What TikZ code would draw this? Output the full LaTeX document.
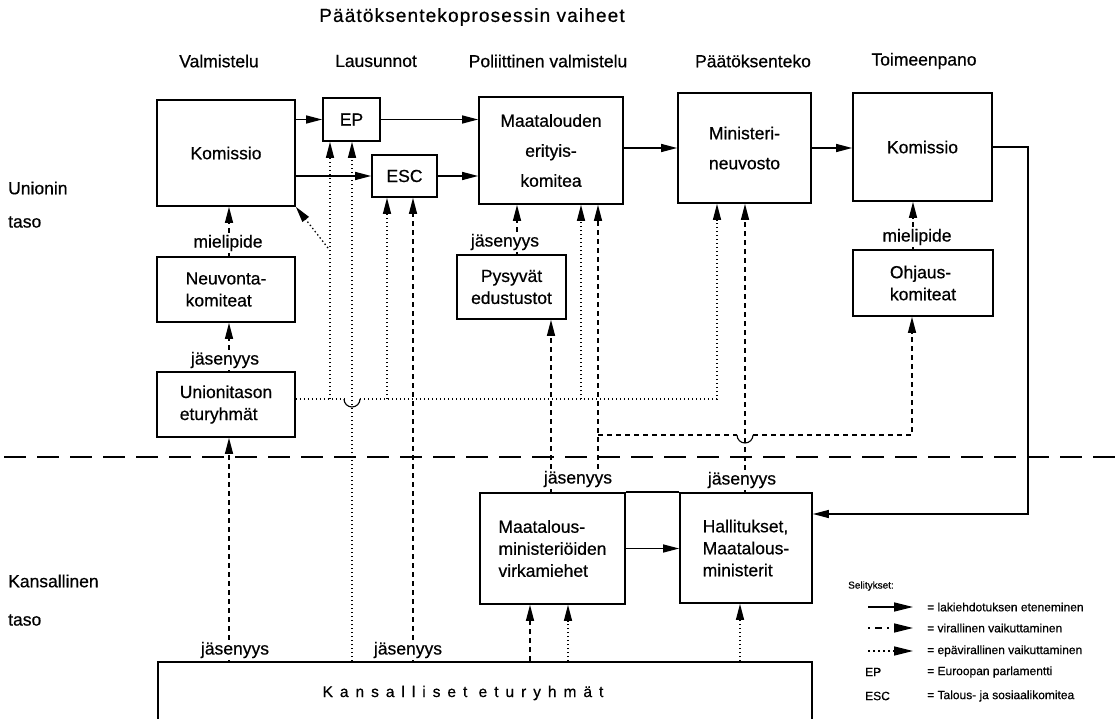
\documentclass[tikz,border=0pt]{standalone}
\usepackage{fontspec}
\setmainfont{Liberation Sans}[RawFeature={embolden=0.6}]
\newfontfamily\spacedfont[LetterSpace=45,RawFeature={embolden=0.6}]{Liberation Sans}
\newfontfamily\titlefont[LetterSpace=6,RawFeature={embolden=0.6}]{Liberation Sans}
\usetikzlibrary{arrows.meta,calc}
\begin{document}
\begin{tikzpicture}[x=1pt,y=-1pt,
  every node/.style={font=\fontsize{17.5}{22}\selectfont, inner sep=0pt},
  box/.style={draw, line width=1.7pt},
  lbl/.style={inner sep=2pt},
  solidarr/.style={line width=1.3pt, -{Triangle[length=16pt,width=8pt]}},
  dasharr/.style={solidarr, dash pattern=on 5pt off 4pt},
  dotarr/.style={solidarr, dash pattern=on 1.4pt off 2.6pt},
  dotln/.style={line width=1.3pt, dash pattern=on 1.4pt off 2.6pt},
  dashln/.style={line width=1.3pt, dash pattern=on 5pt off 4pt},
  hop/.style={line width=1.1pt},
  legtxt/.style={anchor=west, font=\fontsize{12}{14}\selectfont},
  legarr/.style={line width=1.5pt, -{Triangle[length=19pt,width=9pt]}}
]
\useasboundingbox (0,0) rectangle (1115,719);

% headers
\node[font={\titlefont\fontsize{19}{22}\selectfont}] (h0) at (472,17) {Päätöksentekoprosessin vaiheet};
\node (h1) at (219,61) {Valmistelu};
\node (h2) at (376,61) {Lausunnot};
\node (h3) at (548,61) {Poliittinen valmistelu};
\node (h4) at (753,61) {Päätöksenteko};
\node (h5) at (924,61) {Toimeenpano};

\node[anchor=west] (l1) at (8,188) {Unionin};
\node[anchor=west] (l2) at (8,222) {taso};
\node[anchor=west] (l3) at (8,581) {Kansallinen};
\node[anchor=west] (l4) at (8,620) {taso};

% boxes
\node[box, minimum width=138pt, minimum height=106pt] (kom1) at (226,153) {Komissio};
\node[box, minimum width=57pt, minimum height=43pt] (ep) at (351.5,119.5) {EP};
\node[box, minimum width=65pt, minimum height=42pt] (esc) at (404.5,176) {ESC};
\node[box, minimum width=144pt, minimum height=107pt, align=center] (mek) at (551,150.5) {Maatalouden\\[8pt]erityis-\\[8pt]komitea};
\node[box, minimum width=133pt, minimum height=110pt, align=center] (mn) at (744.5,148) {Ministeri-\\[8pt]neuvosto};
\node[box, minimum width=139pt, minimum height=108pt] (kom2) at (922.5,147) {Komissio};
\node[box, minimum width=138pt, minimum height=65pt, align=left] (neu) at (226,289.5) {Neuvonta-\\komiteat};
\node[box, minimum width=138pt, minimum height=65pt, align=left] (une) at (226,404.5) {Unionitason\\eturyhmät};
\node[box, minimum width=109pt, minimum height=64pt, align=center] (pys) at (511.5,287) {Pysyvät\\edustustot};
\node[box, minimum width=140pt, minimum height=66pt, align=left] (ohj) at (923,283) {Ohjaus-\\komiteat};
\node[box, minimum width=145pt, minimum height=111pt, align=left] (mmv) at (552.5,548.5) {Maatalous-\\ministeriöiden\\virkamiehet};
\node[box, minimum width=132pt, minimum height=110pt, align=left] (hal) at (746,548) {Hallitukset,\\Maatalous-\\ministerit};
\node[box, minimum width=654pt, minimum height=80pt] (kans) at (485,702) {};
\node[font={\spacedfont\fontsize{15.5}{18}\selectfont}] (kanstxt) at (463,693) {Kansalliset eturyhmät};

% labels
\node[lbl] (mp1) at (228,243) {mielipide};
\node[lbl] (js1) at (225,360) {jäsenyys};
\node[lbl] (js2) at (505,242) {jäsenyys};
\node[lbl] (mp2) at (917,237) {mielipide};
\node[lbl] (js3) at (578,479) {jäsenyys};
\node[lbl] (js4) at (742,480) {jäsenyys};
\node[lbl] (js5) at (235,650) {jäsenyys};
\node[lbl] (js6) at (408,650) {jäsenyys};

% column coordinates
\coordinate (xa) at (229,0);
\coordinate (xb) at (330,0);
\coordinate (xc) at (352,0);
\coordinate (xd) at (387,0);
\coordinate (xe) at (413,0);
\coordinate (xf) at (517,0);
\coordinate (xg) at (551,0);
\coordinate (xh) at (581,0);
\coordinate (xi) at (598,0);
\coordinate (xj) at (717,0);
\coordinate (xk) at (745,0);
\coordinate (xl) at (912,0);
\coordinate (xm) at (530,0);
\coordinate (xn) at (568,0);
\coordinate (xo) at (740,0);
\coordinate (xp) at (913,0);
\coordinate (dl) at (0,399);
\coordinate (dh) at (0,435);
\coordinate (dg) at (328,248);
\coordinate (rt) at (1028,514);
\coordinate (sepL) at (4,457);
\coordinate (sepR) at (1115,457);

% separator
\draw[line width=1.7pt, dash pattern=on 22pt off 11pt] (sepL) -- (sepR);

% solid arrows
\draw[solidarr] (kom1.east |- ep.west) -- (ep.west);
\draw[solidarr] (kom1.east |- esc.west) -- (esc.west);
\draw[solidarr] (ep.east) -- (ep.east -| mek.west);
\draw[solidarr] (esc.east) -- (esc.east -| mek.west);
\draw[solidarr] (mek.east |- mn.west) -- (mn.west);
\draw[solidarr] (mn.east) -- (mn.east -| kom2.west);
\draw[solidarr] (kom2.east) -| (rt) -- (rt -| hal.east);
\draw[solidarr] (mmv.east) -- (mmv.east -| hal.west);
\draw[line width=1.7pt] (mmv.north east) -- (hal.north west);

% left column
\draw[dashln] (neu.north -| xa) -- (mp1.south -| xa);
\draw[dasharr] (mp1.north -| xa) -- (kom1.south -| xa);
\draw[dashln] (une.north -| xa) -- (js1.south -| xa);
\draw[dasharr] (js1.north -| xa) -- (neu.south -| xa);
\draw[dashln] (kans.north -| xa) -- (js5.south -| xa);
\draw[dasharr] (js5.north -| xa) -- (une.south -| xa);

% dotted network
\draw[dotln] (une.east |- dl) -- ($(xc |- dl)+(-8,0)$);
\draw[hop] ($(xc |- dl)+(-8,0)$) arc[start angle=180, end angle=0, radius=8];
\draw[dotarr] ($(xc |- dl)+(8,0)$) -- (xj |- dl) -- (mn.south -| xj);
\draw[dotarr] (xb |- dl) -- (ep.south -| xb);
\draw[dotarr] (dg) -- (kom1.south east);
\draw[dotarr] (xd |- dl) -- (esc.south -| xd);
\draw[dotarr] (xh |- dl) -- (mek.south -| xh);
\draw[dotarr] (kans.north -| xc) -- (ep.south -| xc);
\draw[dotarr] (kans.north -| xn) -- (mmv.south -| xn);
\draw[dotarr] (kans.north -| xo) -- (hal.south -| xo);

% dashed (official)
\draw[dashln] (kans.north -| xe) -- (js6.south -| xe);
\draw[dasharr] (js6.north -| xe) -- (esc.south -| xe);
\draw[dashln] (pys.north -| xf) -- (js2.south -| xf);
\draw[dasharr] (js2.north -| xf) -- (mek.south -| xf);
\draw[dashln] (mmv.north -| xg) -- (js3.south -| xg);
\draw[dasharr] (js3.north -| xg) -- (pys.south -| xg);
\draw[dasharr] (js3.north -| xi) -- (mek.south -| xi);
\draw[dashln] (xi |- dh) -- ($(xk |- dh)+(-8,0)$);
\draw[hop] ($(xk |- dh)+(-8,0)$) arc[start angle=180, end angle=0, radius=8];
\draw[dasharr] ($(xk |- dh)+(8,0)$) -- (xl |- dh) -- (ohj.south -| xl);
\draw[dashln] (hal.north -| xk) -- (js4.south -| xk);
\draw[dasharr] (js4.north -| xk) -- (mn.south -| xk);
\draw[dasharr] (kans.north -| xm) -- (mmv.south -| xm);
\draw[dashln] (ohj.north -| xp) -- (mp2.south -| xp);
\draw[dasharr] (mp2.north -| xp) -- (kom2.south -| xp);

% legend
\node[anchor=west, font=\fontsize{10}{12}\selectfont] (leg) at (848,586) {Selitykset:};
\coordinate (la1) at (868,607); \coordinate (lb1) at (913,607);
\coordinate (la2) at (868,628); \coordinate (lb2) at (913,628);
\coordinate (la3) at (868,651); \coordinate (lb3) at (913,651);
\draw[legarr] (la1) -- (lb1);
\draw[legarr, dash pattern=on 2pt off 5pt on 7pt off 5pt] (la2) -- (lb2);
\draw[legarr, dash pattern=on 1.5pt off 3.5pt] (la3) -- (lb3);
\node[legtxt] (t1) at (927,607) {= lakiehdotuksen eteneminen};
\node[legtxt] (t2) at (927,628) {= virallinen vaikuttaminen};
\node[legtxt] (t3) at (927,651) {= epävirallinen vaikuttaminen};
\node[legtxt] (t4a) at (865,672) {EP};
\node[legtxt] (t4) at (927,672) {= Euroopan parlamentti};
\node[legtxt] (t5a) at (865,696) {ESC};
\node[legtxt] (t5) at (927,696) {= Talous- ja sosiaalikomitea};
\end{tikzpicture}
\end{document}
